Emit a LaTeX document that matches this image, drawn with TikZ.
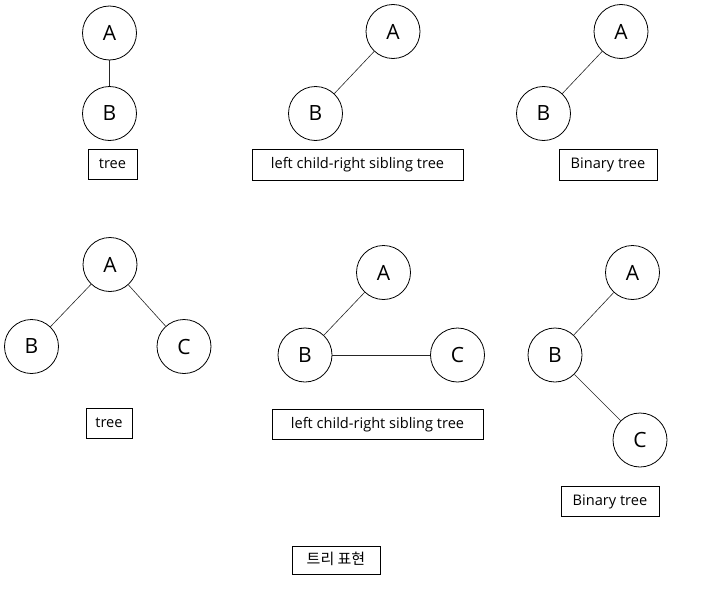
\documentclass[tikz,border=0pt]{standalone}
\usepackage{fontspec}
\setmainfont{Open Sans}
\newfontfamily\krfont{Noto Sans CJK KR}
\begin{document}
\begin{tikzpicture}[x=1pt,y=-1pt,
  vtx/.style={draw, circle, line width=0.8pt, minimum size=54pt, inner sep=0pt, font=\fontsize{21}{24}\selectfont},
  lbl/.style={draw, line width=0.8pt, inner sep=0pt, text height=10pt, text depth=2pt, font=\fontsize{14.6}{16}\selectfont},
  edge/.style={line width=0.6pt, draw=black!85}]
\useasboundingbox (0,0) rectangle (707,589);
% top row, tree
\node[vtx] (a1) at (109.5,33) {A};
\node[vtx] (b1) at (109.5,113.5) {B};
\draw[edge] (a1) -- (b1);
\node[lbl, minimum width=49pt, minimum height=30pt] (t1) at (112.5,164) {tree};
% top row, lcrs
\node[vtx] (a2) at (393,31.5) {A};
\node[vtx] (b2) at (315.5,113.5) {B};
\draw[edge] (a2) -- (b2);
\node[lbl, minimum width=211pt, minimum height=31pt] (t2) at (357.5,164.5) {left child-right sibling tree};
% top row, binary
\node[vtx] (a3) at (621,31.5) {A};
\node[vtx] (b3) at (543.5,113.5) {B};
\draw[edge] (a3) -- (b3);
\node[lbl, minimum width=98pt, minimum height=31pt] (t3) at (608,164.5) {Binary tree};
% bottom row, tree
\node[vtx] (a4) at (110,264.5) {A};
\node[vtx] (b4) at (31.5,346.5) {B};
\node[vtx] (c4) at (184,346.5) {C};
\draw[edge] (a4) -- (b4);
\draw[edge] (a4) -- (c4);
\node[lbl, minimum width=46pt, minimum height=30pt] (t4) at (109,423) {tree};
% bottom row, lcrs
\node[vtx] (a5) at (383.5,272.5) {A};
\node[vtx] (b5) at (305,355) {B};
\node[vtx] (c5) at (457.5,355) {C};
\draw[edge] (a5) -- (b5);
\draw[edge] (b5) -- (c5);
\node[lbl, minimum width=211pt, minimum height=30pt] (t5) at (377.5,424) {left child-right sibling tree};
% bottom row, binary
\node[vtx] (a6) at (632.5,272.5) {A};
\node[vtx] (b6) at (555,355) {B};
\node[vtx] (c6) at (640,440) {C};
\draw[edge] (a6) -- (b6);
\draw[edge] (b6) -- (c6);
\node[lbl, minimum width=98pt, minimum height=30pt] (t6) at (610,501) {Binary tree};
% caption
\node[lbl, minimum width=88pt, minimum height=28pt, font=\krfont\fontsize{15}{18}\selectfont] (cap) at (336,560) {트리 표현};
\end{tikzpicture}
\end{document}
